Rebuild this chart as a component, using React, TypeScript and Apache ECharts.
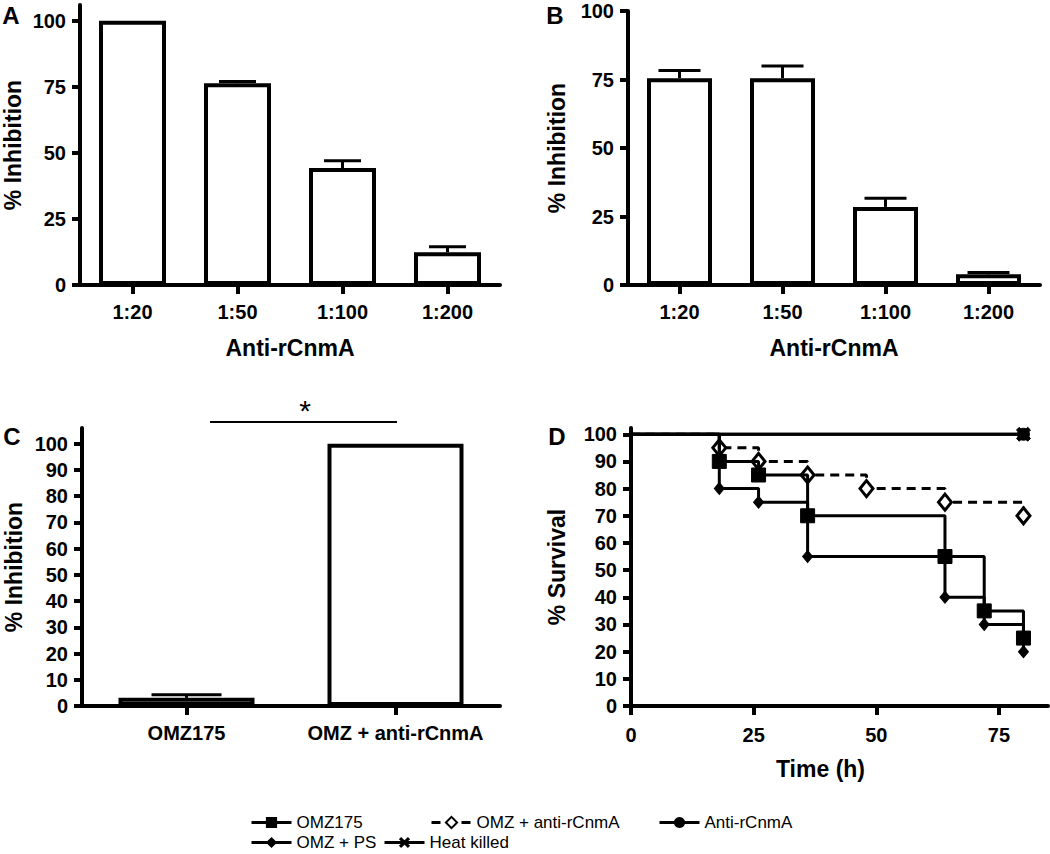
import React, { useEffect, useRef } from 'react';
import * as echarts from 'echarts';

const FONT = '"Liberation Sans", Arial, Helvetica, sans-serif';

// Panel A
const aCategories = ['1:20', '1:50', '1:100', '1:200'];
const aValues = [100, 76.4, 44.3, 12.4];
const aErrorTops = [100, 77.0, 47.0, 14.5];
const aTicks = [0, 25, 50, 75, 100];

// Panel B
const bCategories = ['1:20', '1:50', '1:100', '1:200'];
const bValues = [75.5, 75.5, 28.5, 3.9];
const bErrorTops = [78.3, 79.9, 31.7, 4.6];
const bTicks = [0, 25, 50, 75, 100];

// Panel C
const cCategories = ['OMZ175', 'OMZ + anti-rCnmA'];
const cValues = [3.1, 100];
const cErrorTops = [4.3, 100];
const cTicks = [0, 10, 20, 30, 40, 50, 60, 70, 80, 90, 100];

// Panel D (Kaplan-Meier survival)
const dTimeTicks = [0, 25, 50, 75];
const dSurvivalTicks = [0, 10, 20, 30, 40, 50, 60, 70, 80, 90, 100];
const omz175Times = [0, 18, 26, 36, 64, 72, 80];
const omz175Survival = [100, 90, 85, 70, 55, 35, 25];
const omzAntiTimes = [0, 18, 26, 36, 48, 64, 80];
const omzAntiSurvival = [100, 95, 90, 85, 80, 75, 70];
const antiTimes = [0, 80];
const antiSurvival = [100, 100];
const omzPsTimes = [0, 18, 26, 36, 64, 72, 80];
const omzPsSurvival = [100, 80, 75, 55, 40, 30, 20];
const heatTimes = [0, 80];
const heatSurvival = [100, 100];

const X_PATH = 'path://M2,0 L5,3 L8,0 L10,2 L7,5 L10,8 L8,10 L5,7 L2,10 L0,8 L3,5 L0,2 Z';

const BLACK = '#000';
const tickLabel = { color: BLACK, fontFamily: FONT, fontWeight: 'bold' as const, fontSize: 20 };
const nameStyle = { color: BLACK, fontFamily: FONT, fontWeight: 'bold' as const, fontSize: 23 };
const axisLine = { show: true, onZero: false, lineStyle: { color: BLACK, width: 4 } };

function catXAxis(gridIndex: number, data: string[], name?: string) {
  return {
    type: 'category',
    gridIndex,
    data,
    name,
    nameLocation: 'middle',
    nameGap: 51,
    nameTextStyle: nameStyle,
    axisLine,
    axisTick: { show: true, alignWithLabel: true, length: 9, lineStyle: { color: BLACK, width: 4 } },
    axisLabel: { ...tickLabel, interval: 0, margin: 17 },
    splitLine: { show: false },
  };
}

function valYAxis(gridIndex: number, max: number, ticks: number[], name: string, nameGap: number) {
  return {
    type: 'value',
    gridIndex,
    min: 0,
    max,
    name,
    nameLocation: 'middle',
    nameGap,
    nameTextStyle: nameStyle,
    axisLine,
    axisTick: { show: true, length: 8, customValues: ticks, lineStyle: { color: BLACK, width: 4 } },
    axisLabel: { ...tickLabel, margin: 14, customValues: ticks },
    splitLine: { show: false },
  };
}

function barSeries(idx: number, values: number[], barWidth: number) {
  return {
    type: 'bar',
    xAxisIndex: idx,
    yAxisIndex: idx,
    data: values,
    barWidth,
    itemStyle: { color: '#fff', borderColor: BLACK, borderWidth: 4 },
    silent: true,
    z: 2,
  };
}

function errorSeries(idx: number, values: number[], tops: number[], cap: number) {
  return {
    type: 'custom',
    xAxisIndex: idx,
    yAxisIndex: idx,
    data: values.map((v, i) => [i, v, tops[i]]),
    encode: { x: 0, y: [1, 2] },
    silent: true,
    clip: false,
    z: 3,
    renderItem: (_params: any, api: any) => {
      const v = api.value(1);
      const hi = api.value(2);
      if (!(hi > v)) return { type: 'group', children: [] };
      const p0 = api.coord([api.value(0), v]);
      const p1 = api.coord([api.value(0), hi]);
      const style = { stroke: BLACK, lineWidth: 3 };
      return {
        type: 'group',
        children: [
          { type: 'line', shape: { x1: p0[0], y1: p0[1], x2: p1[0], y2: p1[1] }, style },
          { type: 'line', shape: { x1: p1[0] - cap / 2, y1: p1[1], x2: p1[0] + cap / 2, y2: p1[1] }, style },
        ],
      };
    },
  };
}

function kmData(times: number[], vals: number[]) {
  return times.map((t, i) => (i === 0 ? { value: [t, vals[i]], symbol: 'none' } : [t, vals[i]]));
}

function kmSeries(name: string, times: number[], vals: number[], extra: any) {
  return {
    type: 'line',
    name,
    xAxisIndex: 3,
    yAxisIndex: 3,
    step: 'end',
    data: kmData(times, vals),
    lineStyle: { color: BLACK, width: 3 },
    itemStyle: { color: BLACK, borderColor: BLACK },
    showAllSymbol: true,
    silent: true,
    clip: false,
    ...extra,
  };
}

function letter(text: string, x: number, y: number) {
  return {
    type: 'text',
    x,
    y,
    style: { text, fill: BLACK, fontFamily: FONT, fontWeight: 'bold', fontSize: 24, align: 'center', verticalAlign: 'middle' },
  };
}

const legendText = { color: BLACK, fontFamily: FONT, fontSize: 17 };
function legendItem(name: string, left: number, top: number) {
  return {
    data: [name],
    left,
    top,
    itemWidth: 40,
    itemHeight: 14,
    itemGap: 0,
    padding: 0,
    textStyle: legendText,
    lineStyle: { width: 3 },
    selectedMode: false,
  };
}

export default function App() {
  const ref = useRef<HTMLDivElement>(null);
  useEffect(() => {
    document.body.style.margin = '0';
    if (!ref.current) return;
    const chart = echarts.init(ref.current, undefined, { renderer: 'svg' });
    const option: any = {
      animation: false,
      backgroundColor: '#fff',
      grid: [
        { left: 80, top: 5, width: 420, height: 280, outerBoundsMode: 'none' },
        { left: 628, top: 11, width: 412, height: 274, outerBoundsMode: 'none' },
        { left: 82, top: 428, width: 418, height: 278, outerBoundsMode: 'none' },
        { left: 631, top: 428, width: 417, height: 278, outerBoundsMode: 'none' },
      ],
      xAxis: [
        catXAxis(0, aCategories, 'Anti-rCnmA'),
        catXAxis(1, bCategories, 'Anti-rCnmA'),
        catXAxis(2, cCategories),
        {
          type: 'value',
          gridIndex: 3,
          min: 0,
          max: 85,
          name: 'Time (h)',
          nameLocation: 'middle',
          nameGap: 51,
          nameTextStyle: { ...nameStyle, padding: [0, 38, 0, 0] },
          axisLine,
          axisTick: { show: true, length: 9, customValues: dTimeTicks, lineStyle: { color: BLACK, width: 4 } },
          axisLabel: { ...tickLabel, margin: 19, customValues: dTimeTicks },
          splitLine: { show: false },
        },
      ],
      yAxis: [
        valYAxis(0, 106, aTicks, '% Inhibition', 56),
        valYAxis(1, 100, bTicks, '% Inhibition', 60),
        valYAxis(2, 106, cTicks, '% Inhibition', 57),
        valYAxis(3, 102.3, dSurvivalTicks, '% Survival', 63),
      ],
      legend: [
        legendItem('OMZ175', 250, 814),
        legendItem('OMZ + anti-rCnmA', 430, 814),
        legendItem('Anti-rCnmA', 658, 814),
        legendItem('OMZ + PS', 250, 834),
        legendItem('Heat killed', 383, 834),
      ],
      series: [
        barSeries(0, aValues, 67),
        errorSeries(0, aValues, aErrorTops, 37),
        barSeries(1, bValues, 65),
        errorSeries(1, bValues, bErrorTops, 42),
        barSeries(2, cValues, 136),
        errorSeries(2, cValues, cErrorTops, 70),
        kmSeries('OMZ + anti-rCnmA', omzAntiTimes, omzAntiSurvival, {
          symbol: 'diamond',
          symbolSize: [13, 16],
          lineStyle: { color: BLACK, width: 3, type: [9, 6] },
          itemStyle: { color: '#fff', borderColor: BLACK, borderWidth: 3 },
          z: 3,
        }),
        kmSeries('OMZ175', omz175Times, omz175Survival, { symbol: 'rect', symbolSize: 14, z: 4 }),
        kmSeries('OMZ + PS', omzPsTimes, omzPsSurvival, { symbol: 'diamond', symbolSize: [10, 12], z: 5 }),
        kmSeries('Anti-rCnmA', antiTimes, antiSurvival, { symbol: 'circle', symbolSize: 12, z: 6 }),
        kmSeries('Heat killed', heatTimes, heatSurvival, { symbol: X_PATH, symbolSize: 14, z: 7 }),
      ],
      graphic: [
        letter('A', 11, 15),
        letter('B', 555, 15),
        letter('C', 12, 436),
        letter('D', 557, 436),
        { type: 'line', shape: { x1: 210, y1: 422, x2: 397, y2: 422 }, style: { stroke: BLACK, lineWidth: 2 } },
        {
          type: 'text',
          x: 305,
          y: 410,
          style: { text: '*', fill: BLACK, fontFamily: FONT, fontSize: 30, align: 'center', verticalAlign: 'middle' },
        },
      ],
    };
    chart.setOption(option);
    return () => chart.dispose();
  }, []);
  return <div ref={ref} style={{ width: 1050, height: 854 }} />;
}
